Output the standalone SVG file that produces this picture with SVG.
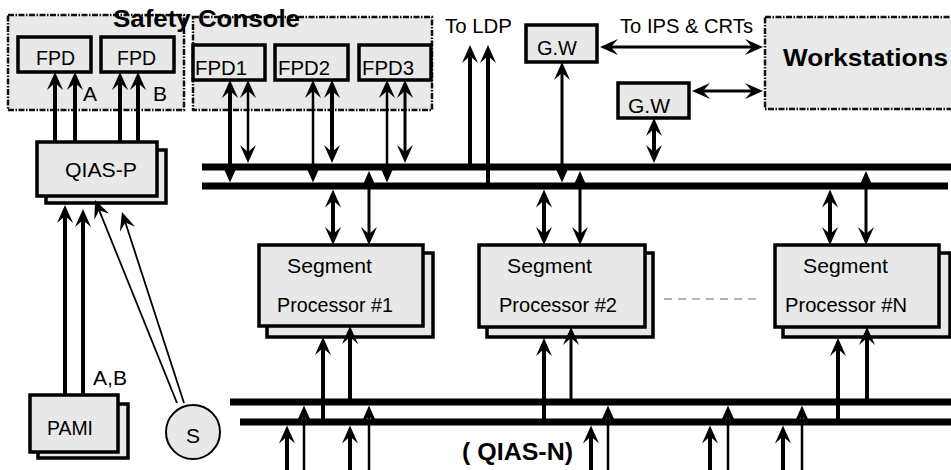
<svg xmlns="http://www.w3.org/2000/svg" width="951" height="470" viewBox="0 0 951 470">
<defs>
<style>
.box{fill:#e8e8e8;stroke:#000;stroke-width:3.5}
.dsh{fill:#e9e9e9;stroke:#111;stroke-width:2.5;stroke-dasharray:6 1.5 1.5 1.5}
.t{font-family:"Liberation Sans",Arial,sans-serif;font-size:21px;fill:#000}
.b{font-weight:bold;font-size:24px}
.bus{stroke:#000;stroke-width:7;fill:none}
.w4{stroke:#000;stroke-width:4;fill:none}
.w3{stroke:#000;stroke-width:3;fill:none}
.w2{stroke:#000;stroke-width:2.5;fill:none}
.w1{stroke:#000;stroke-width:1.8;fill:none}
.e{marker-end:url(#ah)}
.s{marker-start:url(#ah)}
</style>
<marker id="ah" viewBox="-20 -10 22 20" markerWidth="22" markerHeight="20" refX="-5" refY="0" orient="auto-start-reverse" markerUnits="userSpaceOnUse">
<path d="M0,0 L-18,-8 L-11,0 L-18,8 Z" fill="#000"/>
</marker>
</defs>
<rect width="951" height="470" fill="#fff"/>

<g id="safety-left">
<rect class="dsh" x="8" y="15" width="176" height="95"/>
</g>
<g id="safety-console">
<rect class="dsh" x="193" y="17" width="239" height="93"/>
<text class="t b" x="113" y="27" textLength="187" lengthAdjust="spacingAndGlyphs">Safety Console</text>
</g>
<g id="workstations">
<rect class="dsh" x="765" y="17" width="200" height="92"/>
<text class="t b" x="783" y="66" textLength="165" lengthAdjust="spacingAndGlyphs">Workstations</text>
</g>

<g id="fpd-a">
<rect class="box" x="18" y="37" width="73" height="35"/>
<text class="t" x="36" y="65" textLength="39" lengthAdjust="spacingAndGlyphs">FPD</text>
</g>
<g id="fpd-b">
<rect class="box" x="101" y="37" width="73" height="35"/>
<text class="t" x="117" y="65" textLength="39" lengthAdjust="spacingAndGlyphs">FPD</text>
</g>
<g id="fpd1">
<rect class="box" x="193" y="45" width="72" height="35"/>
<text class="t" x="195" y="75" font-size="22" textLength="52" lengthAdjust="spacingAndGlyphs">FPD1</text>
</g>
<g id="fpd2">
<rect class="box" x="275" y="45" width="73" height="35"/>
<text class="t" x="278" y="75" font-size="22" textLength="52" lengthAdjust="spacingAndGlyphs">FPD2</text>
</g>
<g id="fpd3">
<rect class="box" x="359" y="45" width="72" height="35"/>
<text class="t" x="362" y="75" font-size="22" textLength="52" lengthAdjust="spacingAndGlyphs">FPD3</text>
</g>
<g id="gw1">
<rect class="box" x="526" y="25" width="71" height="37"/>
<text class="t" x="537" y="55" textLength="40" lengthAdjust="spacingAndGlyphs">G.W</text>
</g>
<g id="gw2">
<rect class="box" x="618" y="83" width="71" height="35"/>
<text class="t" x="628" y="113" textLength="42" lengthAdjust="spacingAndGlyphs">G.W</text>
</g>
<g id="qias-p">
<rect class="box" x="46" y="150" width="120" height="53"/>
<rect class="box" x="37" y="142" width="120" height="54"/>
<text class="t" x="65" y="177" textLength="72" lengthAdjust="spacingAndGlyphs">QIAS-P</text>
</g>
<g id="pami">
<rect class="box" x="38" y="404" width="90" height="54"/>
<rect class="box" x="30" y="395" width="88" height="57"/>
<text class="t" x="47" y="435" textLength="46" lengthAdjust="spacingAndGlyphs">PAMI</text>
</g>
<g id="s">
<circle cx="193" cy="432" r="27" fill="#e8e8e8" stroke="#000" stroke-width="2"/>
<text class="t" x="193" y="443" text-anchor="middle" font-size="22">S</text>
</g>
<g id="sp1">
<rect class="box" x="267" y="253" width="166" height="84"/>
<rect class="box" x="259" y="245" width="164" height="81"/>
<text class="t" x="287" y="273" font-size="22" textLength="85" lengthAdjust="spacingAndGlyphs">Segment</text>
<text class="t" x="277" y="312" font-size="22" textLength="116" lengthAdjust="spacingAndGlyphs">Processor #1</text>
</g>
<g id="sp2">
<rect class="box" x="487" y="253" width="166" height="84"/>
<rect class="box" x="479" y="245" width="166" height="82"/>
<text class="t" x="507" y="273" font-size="22" textLength="85" lengthAdjust="spacingAndGlyphs">Segment</text>
<text class="t" x="499" y="312" font-size="22" textLength="118" lengthAdjust="spacingAndGlyphs">Processor #2</text>
</g>
<g id="spn">
<rect class="box" x="783" y="253" width="167" height="84"/>
<rect class="box" x="775" y="245" width="164" height="82"/>
<text class="t" x="803" y="273" font-size="22" textLength="85" lengthAdjust="spacingAndGlyphs">Segment</text>
<text class="t" x="785" y="312" font-size="22" textLength="122" lengthAdjust="spacingAndGlyphs">Processor #N</text>
</g>

<g id="buses">
<line class="bus" x1="202" y1="167" x2="951" y2="167" stroke-width="8"/>
<line class="bus" x1="202" y1="186" x2="948" y2="186"/>
<line class="bus" x1="230" y1="402" x2="951" y2="402"/>
<line class="bus" x1="240" y1="422" x2="951" y2="422"/>
</g>

<g id="labels">
<text class="t" x="83" y="101">A</text>
<text class="t" x="153" y="101">B</text>
<text class="t" x="93" y="385" textLength="34" lengthAdjust="spacingAndGlyphs">A,B</text>
<text class="t" x="445" y="33" textLength="67" lengthAdjust="spacingAndGlyphs">To LDP</text>
<text class="t" x="620" y="33" textLength="133" lengthAdjust="spacingAndGlyphs">To IPS &amp; CRTs</text>
<text class="t b" x="462" y="460" font-size="23" textLength="111" lengthAdjust="spacingAndGlyphs">( QIAS-N)</text>
</g>

<g id="connectors">
<line class="w4 e" x1="55" y1="142" x2="55" y2="77"/>
<line class="w4 e" x1="75" y1="142" x2="75" y2="77"/>
<line class="w4 e" x1="120" y1="142" x2="120" y2="77"/>
<line class="w4 e" x1="138" y1="142" x2="138" y2="77"/>

<line class="w4 s e" x1="230" y1="85" x2="230" y2="177.5"/>
<line class="w2 s e" x1="248" y1="85" x2="248" y2="158"/>
<line class="w2 s e" x1="313" y1="85" x2="313" y2="177.5"/>
<line class="w4 s e" x1="332" y1="85" x2="332" y2="158"/>
<line class="w2 s e" x1="387" y1="85" x2="387" y2="177.5"/>
<line class="w3 s e" x1="405" y1="85" x2="405" y2="158"/>

<line class="w4 e" x1="470" y1="167" x2="470" y2="50"/>
<line class="w4 e" x1="488" y1="186" x2="488" y2="50"/>

<line class="w3 s e" x1="562" y1="67" x2="562" y2="177.5"/>
<line class="w3 s e" x1="605" y1="47" x2="758" y2="47"/>
<line class="w4 s e" x1="654" y1="123" x2="654" y2="158"/>
<line class="w3 s e" x1="697" y1="91" x2="758" y2="91"/>

<line class="w4 s e" x1="333" y1="194.5" x2="333" y2="240"/>
<line class="w3 s e" x1="369" y1="176" x2="369" y2="240"/>
<line class="w4 s e" x1="544" y1="194.5" x2="544" y2="240"/>
<line class="w3 s e" x1="580" y1="176" x2="580" y2="240"/>
<line class="w4 s e" x1="830" y1="194.5" x2="830" y2="240"/>
<line class="w3 s e" x1="866" y1="176" x2="866" y2="240"/>

<line class="w4 e" x1="323" y1="422" x2="323" y2="342"/>
<line class="w4 e" x1="350" y1="402" x2="350" y2="331"/>
<line class="w4 e" x1="544" y1="422" x2="544" y2="343"/>
<line class="w3 e" x1="571" y1="402" x2="571" y2="332"/>
<line class="w4 e" x1="838" y1="422" x2="838" y2="343"/>
<line class="w4 e" x1="867" y1="402" x2="867" y2="332"/>

<line class="w4 e" x1="287" y1="470" x2="287" y2="430.5"/>
<line class="w2 e" x1="304" y1="470" x2="304" y2="410.5"/>
<line class="w4 e" x1="350" y1="470" x2="350" y2="430.5"/>
<line class="w2 e" x1="369" y1="470" x2="369" y2="410.5"/>
<line class="w4 e" x1="591" y1="470" x2="591" y2="430.5"/>
<line class="w2 e" x1="608" y1="470" x2="608" y2="410.5"/>
<line class="w4 e" x1="710" y1="470" x2="710" y2="430.5"/>
<line class="w2 e" x1="728" y1="470" x2="728" y2="410.5"/>
<line class="w4 e" x1="783" y1="470" x2="783" y2="430.5"/>
<line class="w2 e" x1="802" y1="470" x2="802" y2="410.5"/>

<line class="w4 e" x1="65" y1="395" x2="65" y2="210" stroke-width="5"/>
<line class="w4 e" x1="83" y1="395" x2="83" y2="214"/>
<line class="w1 e" x1="177" y1="403" x2="96.9" y2="204.6"/>
<line class="w1 e" x1="184" y1="403" x2="123.5" y2="216.8"/>

<line x1="664" y1="299" x2="757" y2="299" stroke="#666" stroke-width="1.2" stroke-dasharray="8 6"/>
</g>
</svg>
